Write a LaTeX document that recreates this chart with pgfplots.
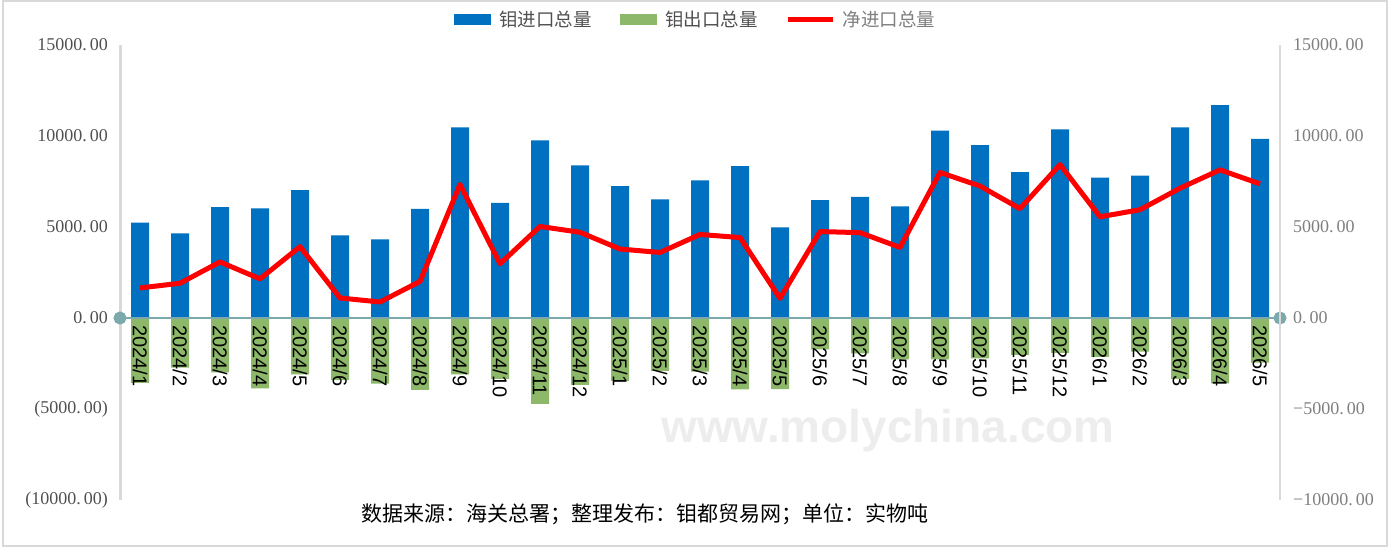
\documentclass[border=0pt]{standalone}
\usepackage{pgfplots}
\usepackage{pgfplotstable}
\pgfplotsset{compat=1.18}
\usepackage{fontspec}
\setmainfont{Liberation Sans}
\newfontfamily\cjk{Noto Sans CJK SC}
\newfontfamily\numfont{Liberation Serif}
\definecolor{cblue}{HTML}{0070C0}
\definecolor{cgreen}{HTML}{8DB869}
\definecolor{cred}{HTML}{FF0000}
\definecolor{czero}{HTML}{7BA9AC}
\definecolor{caxis}{HTML}{D9D9D9}
\definecolor{clab}{HTML}{505050}
\definecolor{clabr}{HTML}{7F7F7F}

\pgfplotstableread{
x imp exp net
0 5240 -3560 1650
1 4650 -2730 1910
2 6090 -2990 3080
3 6020 -3870 2150
4 7030 -3100 3920
5 4540 -3410 1100
6 4320 -3600 880
7 5990 -3950 2010
8 10480 -3100 7340
9 6320 -3350 2980
10 9760 -4720 5030
11 8390 -3680 4710
12 7250 -3460 3790
13 6520 -2910 3600
14 7560 -2950 4590
15 8350 -3920 4420
16 4980 -3910 1080
17 6480 -1720 4750
18 6660 -1940 4690
19 6140 -2270 3880
20 10290 -2270 8000
21 9500 -2220 7250
22 8020 -2030 6010
23 10370 -1910 8430
24 7710 -2130 5560
25 7820 -1850 5950
26 10480 -3350 7130
27 11700 -3590 8140
28 9840 -2450 7370
}\data

\begin{document}
\begin{tikzpicture}[x=1pt,y=1pt]
\useasboundingbox (0,0) rectangle (1391,547);
\draw[caxis, line width=2pt] (3,1.5) rectangle (1387,546);
\node[text=black!7, font=\fontsize{46}{46}\selectfont\bfseries] at (888,116) {www.molychina.com};

\begin{axis}[
  at={(120pt,47pt)}, anchor=south west, scale only axis,
  width=1160pt, height=455pt,
  xmin=-0.5, xmax=28.5, ymin=-10000, ymax=15000,
  axis on top,
  scaled y ticks=false,
  axis x line*=middle, axis y line*=left,
  x axis line style={draw=none},
  y axis line style={draw=caxis, line width=3pt},
  major tick length=0pt,
  xtick={0,...,28},
  xticklabels={2024/1,2024/2,2024/3,2024/4,2024/5,2024/6,2024/7,2024/8,2024/9,2024/10,2024/11,2024/12,2025/1,2025/2,2025/3,2025/4,2025/5,2025/6,2025/7,2025/8,2025/9,2025/10,2025/11,2025/12,2026/1,2026/2,2026/3,2026/4,2026/5},
  x tick label style={rotate=-90, anchor=west, font=\fontsize{20}{20}\selectfont, inner sep=0pt, text=black},
  xticklabel shift=7pt,
  ytick={-10000,-5000,0,5000,10000,15000},
  yticklabels={(10000.\kern3pt00),(5000.\kern3pt00),0.\kern3pt00,5000.\kern3pt00,10000.\kern3pt00,15000.\kern3pt00},
  y tick label style={font=\numfont\fontsize{18}{18}\selectfont, text=clab, inner sep=0pt},
  yticklabel shift=12pt,
  clip=false,
]
\addplot[ybar, bar width=18pt, fill=cblue, draw=none] table[x=x, y=imp] {\data};
\addplot[ybar, bar width=18pt, fill=cgreen, draw=none] table[x=x, y=exp] {\data};
\addplot[czero, line width=2pt, mark=*, mark size=5.5pt, mark options={fill=czero, draw=czero}] coordinates {(-0.5,0) (28.5,0)};
\end{axis}

\begin{axis}[
  at={(120pt,47pt)}, anchor=south west, scale only axis,
  width=1160pt, height=455pt,
  xmin=-0.5, xmax=28.5, ymin=-10000, ymax=15000,
  scaled y ticks=false,
  axis x line=none, axis y line*=right,
  y axis line style={draw=caxis, line width=1.5pt},
  major tick length=0pt,
  ytick={-10000,-5000,0,5000,10000,15000},
  yticklabels={−10000.\kern3pt00,−5000.\kern3pt00,0.\kern3pt00,5000.\kern3pt00,10000.\kern3pt00,15000.\kern3pt00},
  y tick label style={font=\numfont\fontsize{18}{18}\selectfont, text=clabr, inner sep=0pt},
  yticklabel shift=13pt,
  clip=false,
  legend style={draw=none, fill=none, at={(0.496,1.057)}, anchor=center,
    legend columns=3, font=\cjk\fontsize{18.5}{18.5}\selectfont,
    /tikz/every even column/.append style={column sep=26pt}},
]
\addlegendimage{legend image code/.code={\fill[cblue] (0pt,-5pt) rectangle (36pt,5pt);}}
\addlegendentry{\hspace{7pt}\textcolor{clab}{钼进口总量}}
\addlegendimage{legend image code/.code={\fill[cgreen] (0pt,-5pt) rectangle (36pt,5pt);}}
\addlegendentry{\hspace{7pt}\textcolor{clab}{钼出口总量}}
\addplot[cred, line width=5pt, line join=round, mark=none,
  legend image code/.code={\draw[cred, line width=5pt] (0pt,0pt) -- (45pt,0pt);}]
  table[x=x, y=net] {\data};
\addlegendentry{\hspace{5pt}\textcolor{clabr}{净进口总量}}
\node[font=\cjk\fontsize{21}{21}\selectfont, text=black] at (axis description cs:0.4526,-0.031) {数据来源：海关总署；整理发布：钼都贸易网；单位：实物吨};
\end{axis}
\end{tikzpicture}
\end{document}
